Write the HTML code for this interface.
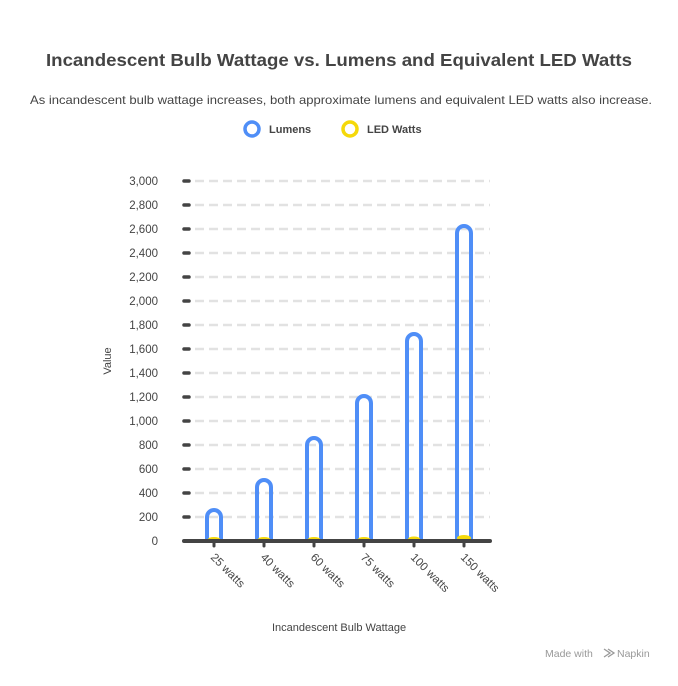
<!DOCTYPE html>
<html><head><style>
body{margin:0;background:#fff;width:678px;height:681px;overflow:hidden;font-family:"Liberation Sans",sans-serif}
</style></head><body>
<svg width="678" height="681" xmlns="http://www.w3.org/2000/svg" font-family="Liberation Sans, sans-serif">
<text x="339" y="66" text-anchor="middle" font-size="17.5" font-weight="bold" fill="#444" textLength="586" lengthAdjust="spacingAndGlyphs">Incandescent Bulb Wattage vs. Lumens and Equivalent LED Watts</text>
<text x="341" y="104" text-anchor="middle" font-size="12" fill="#444" textLength="622" lengthAdjust="spacingAndGlyphs">As incandescent bulb wattage increases, both approximate lumens and equivalent LED watts also increase.</text>
<circle cx="252" cy="129" r="7" fill="none" stroke="#4f8ef7" stroke-width="3.5"/>
<text x="269" y="133" font-size="11" font-weight="bold" fill="#444">Lumens</text>
<circle cx="350" cy="129" r="7" fill="none" stroke="#f5d90a" stroke-width="3.5"/>
<text x="367" y="133" font-size="11" font-weight="bold" fill="#444">LED Watts</text>
<g stroke="#e2e2e2" stroke-width="2.5" stroke-dasharray="9 5">
<line x1="195" x2="490" y1="517" y2="517"/><line x1="195" x2="490" y1="493" y2="493"/><line x1="195" x2="490" y1="469" y2="469"/><line x1="195" x2="490" y1="445" y2="445"/><line x1="195" x2="490" y1="421" y2="421"/><line x1="195" x2="490" y1="397" y2="397"/><line x1="195" x2="490" y1="373" y2="373"/><line x1="195" x2="490" y1="349" y2="349"/><line x1="195" x2="490" y1="325" y2="325"/><line x1="195" x2="490" y1="301" y2="301"/><line x1="195" x2="490" y1="277" y2="277"/><line x1="195" x2="490" y1="253" y2="253"/><line x1="195" x2="490" y1="229" y2="229"/><line x1="195" x2="490" y1="205" y2="205"/><line x1="195" x2="490" y1="181" y2="181"/>
</g>
<g stroke="#444" stroke-width="3.5" stroke-linecap="round">
<line x1="184" x2="189" y1="517" y2="517"/><line x1="184" x2="189" y1="493" y2="493"/><line x1="184" x2="189" y1="469" y2="469"/><line x1="184" x2="189" y1="445" y2="445"/><line x1="184" x2="189" y1="421" y2="421"/><line x1="184" x2="189" y1="397" y2="397"/><line x1="184" x2="189" y1="373" y2="373"/><line x1="184" x2="189" y1="349" y2="349"/><line x1="184" x2="189" y1="325" y2="325"/><line x1="184" x2="189" y1="301" y2="301"/><line x1="184" x2="189" y1="277" y2="277"/><line x1="184" x2="189" y1="253" y2="253"/><line x1="184" x2="189" y1="229" y2="229"/><line x1="184" x2="189" y1="205" y2="205"/><line x1="184" x2="189" y1="181" y2="181"/>
</g>
<g font-size="11.5" fill="#444" text-anchor="end">
<text x="158" y="545">0</text><text x="158" y="521">200</text><text x="158" y="497">400</text><text x="158" y="473">600</text><text x="158" y="449">800</text><text x="158" y="425">1,000</text><text x="158" y="401">1,200</text><text x="158" y="377">1,400</text><text x="158" y="353">1,600</text><text x="158" y="329">1,800</text><text x="158" y="305">2,000</text><text x="158" y="281">2,200</text><text x="158" y="257">2,400</text><text x="158" y="233">2,600</text><text x="158" y="209">2,800</text><text x="158" y="185">3,000</text>
</g>
<text transform="translate(111,361) rotate(-90)" text-anchor="middle" font-size="11" fill="#444">Value</text>
<g fill="none" stroke="#4f8ef7" stroke-width="4">
<path d="M207,540 V517 A7,7 0 0 1 221,517 V540"/>
<path d="M257,540 V487 A7,7 0 0 1 271,487 V540"/>
<path d="M307,540 V445 A7,7 0 0 1 321,445 V540"/>
<path d="M357,540 V403 A7,7 0 0 1 371,403 V540"/>
<path d="M407,540 V341 A7,7 0 0 1 421,341 V540"/>
<path d="M457,540 V233 A7,7 0 0 1 471,233 V540"/>
</g>
<g fill="#f5d90a">
<ellipse cx="214" cy="539" rx="6" ry="2"/><ellipse cx="264" cy="539" rx="6" ry="2"/><ellipse cx="314" cy="539" rx="6" ry="2"/><ellipse cx="364" cy="539" rx="6" ry="2"/><ellipse cx="414" cy="539" rx="6" ry="2.5"/><ellipse cx="464" cy="538" rx="7" ry="3"/>
</g>
<line x1="184" x2="490" y1="541" y2="541" stroke="#444" stroke-width="4" stroke-linecap="round"/>
<g stroke="#444" stroke-width="3" stroke-linecap="round">
<line x1="214" x2="214" y1="541" y2="546"/><line x1="264" x2="264" y1="541" y2="546"/><line x1="314" x2="314" y1="541" y2="546"/><line x1="364" x2="364" y1="541" y2="546"/><line x1="414" x2="414" y1="541" y2="546"/><line x1="464" x2="464" y1="541" y2="546"/>
</g>
<g font-size="11.5" fill="#444">
<text transform="translate(210,558) rotate(45)">25 watts</text>
<text transform="translate(260,558) rotate(45)">40 watts</text>
<text transform="translate(310,558) rotate(45)">60 watts</text>
<text transform="translate(360,558) rotate(45)">75 watts</text>
<text transform="translate(410,558) rotate(45)">100 watts</text>
<text transform="translate(460,558) rotate(45)">150 watts</text>
</g>
<text x="339" y="631" text-anchor="middle" font-size="11" fill="#444">Incandescent Bulb Wattage</text>
<text x="545" y="657" font-size="10.5" fill="#999">Made with</text>
<path d="M604,649 l6,4 -6,4 M608,649 l6,4 -6,4" stroke="#999" stroke-width="1.3" fill="none"/>
<text x="617" y="657" font-size="10.5" fill="#999">Napkin</text>
</svg>
</body></html>
